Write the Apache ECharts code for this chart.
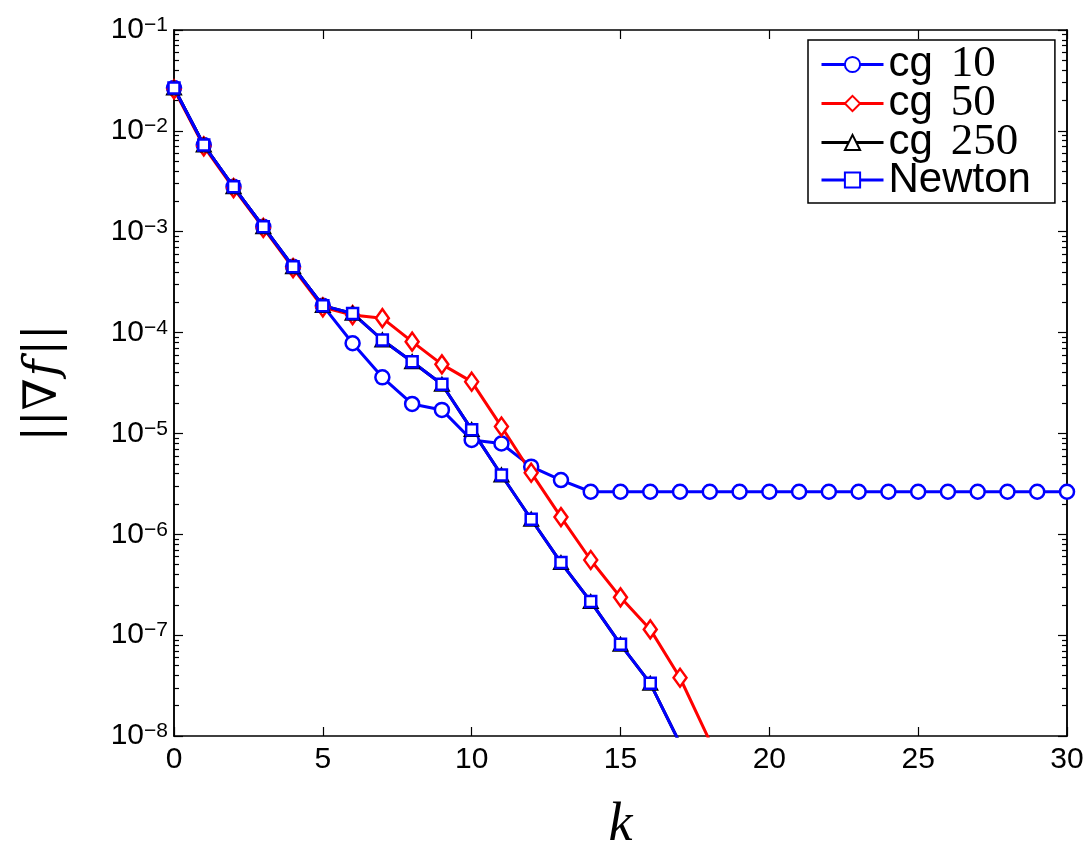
<!DOCTYPE html>
<html>
<head>
<meta charset="utf-8">
<title>grad norm</title>
<script src="https://cdn.jsdelivr.net/npm/echarts@6/dist/echarts.min.js"></script>
<style>
  html, body { margin: 0; padding: 0; background: #fff; }
  #chart { width: 1091px; height: 849px; }
</style>
</head>
<body>
<div id="chart"></div>
<script>
  // iterations k
  var kSteps = [];
  for (var i = 0; i <= 30; i++) kSteps.push(i);

  // ||grad f|| per iteration
  var cg10 = [0.0266, 0.00724, 0.00279, 0.00112, 4.50e-4, 1.85e-4, 7.83e-5, 3.60e-5, 1.96e-5, 1.71e-5,
              8.6e-6, 7.94e-6, 4.68e-6, 3.45e-6, 2.64e-6, 2.64e-6, 2.64e-6, 2.64e-6, 2.64e-6, 2.64e-6,
              2.64e-6, 2.64e-6, 2.64e-6, 2.64e-6, 2.64e-6, 2.64e-6, 2.64e-6, 2.64e-6, 2.64e-6, 2.64e-6, 2.64e-6];
  var cg50 = [0.0258, 0.00702, 0.00271, 0.00109, 4.36e-4, 1.78e-4, 1.49e-4, 1.39e-4, 8.13e-5, 4.84e-5,
              3.26e-5, 1.17e-5, 4.08e-6, 1.48e-6, 5.56e-7, 2.37e-7, 1.14e-7, 3.78e-8, 8.9e-9];
  var cg250 = [0.0266, 0.00724, 0.00279, 0.00112, 4.50e-4, 1.85e-4, 1.55e-4, 8.44e-5, 5.14e-5, 3.07e-5,
               1.09e-5, 3.87e-6, 1.41e-6, 5.24e-7, 2.15e-7, 8.11e-8, 3.33e-8, 8.4e-9];
  var newton = [0.0266, 0.00724, 0.00279, 0.00112, 4.50e-4, 1.85e-4, 1.55e-4, 8.44e-5, 5.14e-5, 3.07e-5,
                1.09e-5, 3.87e-6, 1.41e-6, 5.24e-7, 2.15e-7, 8.11e-8, 3.33e-8, 8.4e-9];

  // tick values
  var xTicks = [0, 5, 10, 15, 20, 25, 30];
  var decades = [-8, -7, -6, -5, -4, -3, -2, -1];
  var minorMult = [2, 3, 4, 5, 6, 7, 8, 9];

  var majorTicks = decades.map(function (d) { return Math.pow(10, d); });
  var minorTicks = [];
  decades.slice(0, -1).forEach(function (d) {
    minorMult.forEach(function (m) { minorTicks.push(m * Math.pow(10, d)); });
  });

  function pairs(arr) {
    return arr.map(function (v, i) { return [kSteps[i], v]; });
  }

  var labelFont = 'Liberation Sans, Arial, sans-serif';

  // one log axis: either the decade ticks (with labels on the left) or the minor ticks
  function logAxis(pos, ticks, len, labels) {
    var ax = {
      type: 'log',
      logBase: 10,
      position: pos,
      min: 1e-8,
      max: 1e-1,
      axisLine: { show: true, lineStyle: { color: '#000', width: 1.5 } },
      axisTick: { show: true, inside: true, length: len, customValues: ticks, lineStyle: { color: '#000', width: 1.2 } },
      axisLabel: { show: false },
      splitLine: { show: false }
    };
    if (labels) {
      ax.axisLabel = {
        show: true,
        customValues: majorTicks,
        margin: 6,
        formatter: function (v) {
          var e = Math.round(Math.log10(v));
          return '{b|10}{s|\u2212' + Math.abs(e) + '}';
        },
        rich: {
          b: { fontFamily: labelFont, fontSize: 30, color: '#000', lineHeight: 30, verticalAlign: 'bottom' },
          s: { fontFamily: labelFont, fontSize: 21, color: '#000', lineHeight: 21, verticalAlign: 'top', padding: [0, 0, 16, 0] }
        }
      };
      ax.name = '{n|||\u2207}{f|f}{n|||}';
      ax.nameLocation = 'middle';
      ax.nameRotate = 90;
      ax.nameGap = 107;
      ax.nameTextStyle = {
        rich: {
          n: { fontFamily: 'DejaVu Serif', fontSize: 46, color: '#000' },
          f: { fontFamily: 'DejaVu Serif', fontStyle: 'italic', fontSize: 46, color: '#000', padding: [0, 4, 0, 2] }
        }
      };
    }
    return ax;
  }

  function kAxis(pos, labels) {
    var ax = {
      type: 'value',
      position: pos,
      min: 0,
      max: 30,
      interval: 5,
      axisLine: { show: true, lineStyle: { color: '#000', width: 1.5 } },
      axisTick: { show: true, inside: true, length: 9, customValues: xTicks, lineStyle: { color: '#000', width: 1.2 } },
      axisLabel: { show: false },
      splitLine: { show: false }
    };
    if (labels) {
      ax.axisLabel = { show: true, margin: 9, fontFamily: labelFont, fontSize: 30, color: '#000' };
      ax.name = 'k';
      ax.nameLocation = 'middle';
      ax.nameGap = 63;
      ax.nameTextStyle = { fontFamily: 'Liberation Serif', fontStyle: 'italic', fontSize: 54, color: '#000' };
    }
    return ax;
  }

  function lineSeries(name, arr, color, symbol, size, bw) {
    return {
      name: name,
      type: 'line',
      data: pairs(arr),
      symbol: symbol,
      symbolSize: size,
      showAllSymbol: true,
      clip: true,
      lineStyle: { color: color, width: 3 },
      itemStyle: { color: '#fff', borderColor: color, borderWidth: bw },
      emphasis: { disabled: true }
    };
  }

  var option = {
    animation: false,
    backgroundColor: '#fff',
    grid: { left: 174, right: 24, top: 30, bottom: 113, outerBoundsMode: 'none' },
    xAxis: [kAxis('bottom', true), kAxis('top', false)],
    yAxis: [
      logAxis('left', majorTicks, 9, true),
      logAxis('left', minorTicks, 5, false),
      logAxis('right', majorTicks, 9, false),
      logAxis('right', minorTicks, 5, false)
    ],
    legend: {
      orient: 'vertical',
      left: 808,
      top: 40,
      padding: [2, 24, 2, 12],
      itemGap: -6,
      itemWidth: 62,
      itemHeight: 19,
      selectedMode: false,
      backgroundColor: '#fff',
      borderColor: '#000',
      borderWidth: 1.5,
      lineStyle: { width: 3 },
      data: ['cg 10', 'cg 50', 'cg 250', 'Newton'],
      formatter: function (name) {
        if (name.indexOf('cg ') === 0) return '{a|cg}{n|' + name.slice(3) + '}';
        return '{a|' + name + '}';
      },
      textStyle: {
        rich: {
          a: { fontFamily: labelFont, fontSize: 42, color: '#000', lineHeight: 38 },
          n: { fontFamily: 'Liberation Serif', fontSize: 45, color: '#000', lineHeight: 38, padding: [0, 0, 0, 18] }
        }
      }
    },
    series: [
      lineSeries('cg 10', cg10, '#0000ff', 'circle', 14, 2.5),
      lineSeries('cg 50', cg50, '#ff0000', 'diamond', [13, 18], 2.5),
      lineSeries('cg 250', cg250, '#000000', 'triangle', [14, 13], 2),
      lineSeries('Newton', newton, '#0000ff', 'rect', 11, 2.5)
    ]
  };

  var myChart = echarts.init(document.getElementById('chart'));
  myChart.setOption(option);
</script>
</body>
</html>
